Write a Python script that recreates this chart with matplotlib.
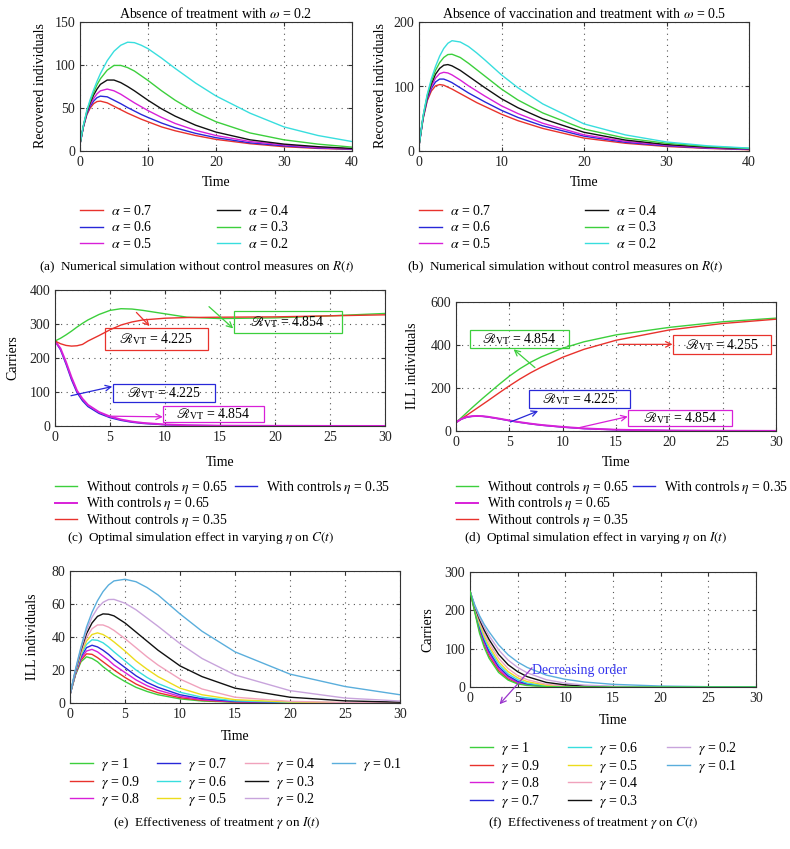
import matplotlib
matplotlib.use("Agg")
import matplotlib.pyplot as plt
from matplotlib.patches import Rectangle

plt.rcParams["font.family"] = "serif"
plt.rcParams["font.serif"] = ["Liberation Serif", "DejaVu Serif"]
plt.rcParams["mathtext.fontset"] = "stix"
plt.rcParams["font.size"] = 10

W, H = 790, 849

RED = "#e8322c"
BLUE = "#2828d8"
MAG = "#d820d8"
BLACK = "#111111"
GREEN = "#3ccf3c"
CYAN = "#38dede"
YELLOW = "#ecdc1c"
PINK = "#f0a2bc"
PLUM = "#c8a4dc"
LBLUE = "#5aaedc"
PURPLE = "#9933cc"

# ---- (a) recovered, omega = 0.2
t_a = [0, 0.5, 1, 1.5, 2, 2.5, 3, 4, 5, 6, 7, 8, 9, 10, 12, 14, 17, 20, 25, 30, 35, 40]
a_alpha07 = [8, 28, 42, 50, 55, 57.5, 58, 56, 52, 48, 44, 40.5, 37, 34, 28, 23.5, 18, 13.5, 8.5, 5, 3, 2]
a_alpha06 = [8, 28, 43, 52, 58, 62, 63.8, 63, 59, 55, 50.5, 46.5, 42.5, 39, 32.5, 27, 20.5, 15.5, 9.5, 6, 3.5, 2.2]
a_alpha05 = [8, 28.5, 44, 54, 61, 66.5, 70, 72, 70, 66, 61, 56, 51.5, 47, 39, 32, 24, 18, 11, 7, 4, 2.5]
a_alpha04 = [8, 29, 45, 56, 65, 72, 77.5, 82.5, 82.5, 79.5, 75, 70, 64.5, 59, 49, 40.5, 30, 22, 13, 8, 5, 3]
a_alpha03 = [8, 29.5, 46, 58, 68, 77, 84, 94, 99.5, 99.5, 97, 93, 87.5, 82, 70, 59, 45, 34, 21, 13, 8, 4.5]
a_alpha02 = [8, 30, 47, 60, 71, 81, 90, 105, 116, 123, 126.5, 126, 123, 119, 108, 96, 79, 64, 44, 28, 18, 11]

# ---- (b) recovered, omega = 0.5
t_b = [0, 0.5, 1, 1.5, 2, 2.5, 3, 3.5, 4, 5, 6, 7, 8, 10, 12, 15, 20, 25, 30, 35, 40]
b_alpha07 = [8, 50, 78, 93, 101, 103, 102, 99, 96, 89, 82, 75, 69, 57, 47, 35, 20, 12, 7, 4, 2]
b_alpha06 = [8, 51, 80, 97, 107, 111.5, 111.5, 109, 106, 98, 90, 83, 76, 63, 52, 39, 23, 13.5, 8, 4.5, 2.5]
b_alpha05 = [8, 52, 82, 100, 113, 120, 122, 121, 118, 110, 101, 93, 85, 70, 58, 43, 25, 15, 9, 5, 3]
b_alpha04 = [8, 53, 84, 104, 119, 128, 133, 134, 132, 125, 116, 107, 98, 81, 67, 50, 29, 17, 10, 6, 3.5]
b_alpha03 = [8, 54, 86, 108, 125, 137, 145, 149.5, 150, 145, 136, 126, 116, 96, 79, 59, 34, 20, 12, 7, 4]
b_alpha02 = [8, 55, 88, 112, 131, 147, 159, 167, 171, 169, 162, 152, 141, 118, 98, 73, 42, 25, 14, 8, 4.5]
alpha_labels = ["0.7", "0.6", "0.5", "0.4", "0.3", "0.2"]

# ---- (c) carriers, varying eta
t_c = [0, 0.5, 1, 1.5, 2, 2.5, 3, 4, 5, 6, 7, 8, 10, 12, 15, 20, 25, 30]
c_without065 = [250, 258, 268, 279, 291, 302, 312, 328, 340, 345, 344, 340, 330, 320, 316, 318, 324, 331]
c_with065 = [250, 228, 188, 143, 104, 80, 62, 41, 28, 19, 13, 9, 4.5, 2.2, 1, 0.4, 0.2, 0.1]
c_without035 = [250, 242, 237, 235, 236, 240, 250, 266, 283, 297, 306, 312, 317, 319, 320, 321, 324, 327]
c_with035 = [250, 224, 182, 136, 98, 74, 57, 37, 24.5, 16.5, 11, 7.5, 3.5, 1.8, 0.8, 0.3, 0.1, 0.1]

# ---- (d) ill individuals, varying eta
t_d = [0, 0.5, 1, 1.5, 2, 2.5, 3, 4, 5, 6, 7, 8, 10, 12, 15, 20, 25, 30]
d_without065 = [40, 62, 85, 108, 130, 152, 173, 215, 255, 290, 320, 345, 385, 415, 447, 482, 508, 525]
d_with065 = [40, 56, 65, 69, 70, 69, 66, 58, 49, 41, 34, 28, 19, 12, 6, 2, 1, 0.5]
d_without035 = [40, 56, 73, 90, 107, 124, 141, 176, 210, 242, 271, 297, 343, 380, 422, 470, 500, 520]
d_with035 = [40, 55, 64, 68, 69, 68, 65, 57, 48, 40, 33, 27, 18, 11, 5.5, 2, 1, 0.5]
eta_labels = [r"Without controls $\eta$ = 0.65", r"With controls $\eta$ = 0.65",
              r"Without controls $\eta$ = 0.35", r"With controls $\eta$ = 0.35"]

# ---- (e) ill individuals, varying gamma
t_e = [0, 0.5, 1, 1.5, 2, 2.5, 3, 3.5, 4, 5, 6, 7, 8, 10, 12, 15, 20, 25, 30]
e_g10 = [5, 17, 25, 28, 27, 25, 22, 19.5, 17, 13, 9.5, 7, 5, 2.5, 1.2, 0.5, 0.2, 0.1, 0.05]
e_g09 = [5, 17.5, 26, 29.8, 29.5, 27.5, 25, 22.5, 20, 15.5, 11.5, 8.5, 6.2, 3.2, 1.6, 0.6, 0.2, 0.1, 0.05]
e_g08 = [5, 18, 27, 31.5, 32.5, 31, 28.5, 26, 23, 18.5, 14, 10.5, 7.8, 4, 2, 0.8, 0.25, 0.1, 0.05]
e_g07 = [5, 18, 28, 33.5, 35, 34, 32, 29.5, 26.5, 21.5, 16.5, 12.5, 9.5, 5, 2.6, 1, 0.3, 0.1, 0.05]
e_g06 = [5, 18.5, 29, 35.5, 38.3, 38, 36.5, 34, 31, 25.5, 20, 15.5, 11.8, 6.5, 3.5, 1.3, 0.4, 0.15, 0.05]
e_g05 = [5, 19, 30, 37.5, 41.5, 42.5, 41.5, 39.5, 37, 31.5, 25.5, 20.5, 16, 9, 5, 2, 0.6, 0.2, 0.1]
e_g04 = [5, 19, 31, 39.5, 45, 47.3, 47.3, 46, 44, 39, 33.5, 28, 23, 14.5, 8.5, 3.5, 1, 0.3, 0.1]
e_g03 = [5, 19.5, 32, 42, 48.5, 52.5, 54, 53.8, 52.8, 48.5, 43, 37.5, 32, 22.5, 16, 9, 3.5, 1.3, 0.5]
e_g02 = [5, 20, 33, 44, 52, 57.5, 61, 62.7, 62.8, 60.5, 56.5, 51.5, 46.5, 36, 27, 17, 7.5, 3, 1.2]
e_g01 = [5, 20.5, 34, 46, 55, 62, 67.5, 71.5, 74, 75, 73.5, 70, 65.5, 54, 43.5, 31, 17.5, 10, 5]

# ---- (f) carriers, varying gamma
t_f = [0, 0.5, 1, 1.5, 2, 3, 4, 5, 6, 8, 10, 12, 15, 20, 25, 30]
f_g10 = [250, 195, 140, 103, 75, 38, 18, 8, 4, 1, 0.3, 0.1, 0, 0, 0, 0]
f_g09 = [250, 198, 146, 109, 81, 43, 21, 10, 5, 1.3, 0.4, 0.1, 0, 0, 0, 0]
f_g08 = [250, 200, 151, 115, 87, 48, 25, 12, 6, 1.6, 0.5, 0.2, 0, 0, 0, 0]
f_g07 = [250, 202, 156, 121, 93, 53, 29, 15, 8, 2.2, 0.7, 0.2, 0.1, 0, 0, 0]
f_g06 = [250, 204, 161, 127, 100, 59, 34, 19, 10, 3, 1, 0.3, 0.1, 0, 0, 0]
f_g05 = [250, 206, 166, 133, 107, 66, 40, 24, 14, 4.5, 1.5, 0.5, 0.1, 0, 0, 0]
f_g04 = [250, 208, 171, 140, 115, 75, 48, 30, 19, 7, 2.5, 1, 0.3, 0, 0, 0]
f_g03 = [250, 210, 176, 148, 124, 85, 58, 40, 27, 12, 5.5, 2.5, 0.8, 0.2, 0, 0]
f_g02 = [250, 212, 181, 156, 134, 97, 70, 51, 37, 19, 10, 5, 2, 0.5, 0.1, 0]
f_g01 = [250, 214, 186, 163, 144, 110, 84, 65, 51, 31, 20, 13, 7, 2.5, 0.8, 0.3]
gamma_labels = ["1", "0.9", "0.8", "0.7", "0.6", "0.5", "0.4", "0.3", "0.2", "0.1"]
gamma_colors = [GREEN, RED, MAG, BLUE, CYAN, YELLOW, PINK, BLACK, PLUM, LBLUE]

fig = plt.figure(figsize=(W / 100, H / 100), dpi=100)


def add_ax(x0, y0, x1, y1):
    return fig.add_axes([x0 / W, 1 - y1 / H, (x1 - x0) / W, (y1 - y0) / H])


def ftext(x, y, s, **kw):
    kw.setdefault("ha", "center")
    kw.setdefault("va", "center")
    fig.text(x / W, 1 - y / H, s, **kw)


def col_legend(handles, labels, x, y, fs=10, sp=0.18):
    fig.legend(handles, labels, loc="upper left", bbox_to_anchor=(x / W, 1 - y / H),
               frameon=False, borderpad=0, borderaxespad=0, handlelength=1.65,
               handletextpad=0.6, labelspacing=sp, fontsize=fs)


def style(ax, xmax, xstep, ymax, ystep):
    ax.set_xlim(0, xmax)
    ax.set_ylim(0, ymax)
    ax.set_xticks(range(0, xmax + 1, xstep))
    ax.set_yticks(range(0, ymax + 1, ystep))
    ax.grid(True, linestyle=(0, (1, 4)), color="#555555", linewidth=0.8)
    ax.tick_params(direction="in", length=3, labelsize=10, top=True, right=True,
                   colors="#333333", labelcolor="#222222")
    for s in ax.spines.values():
        s.set_color("#333333")
        s.set_linewidth(0.8)


def boxed(ax, box, txt_xy, tail, head, color, label):
    x0, x1, y0, y1 = box
    ax.add_patch(Rectangle((x0, y0), x1 - x0, y1 - y0, fill=False, ec=color, lw=0.9, zorder=5))
    ax.text(txt_xy[0], txt_xy[1], label, ha="center", va="center", fontsize=10, zorder=6)
    ax.annotate("", xy=head, xytext=tail,
                arrowprops=dict(arrowstyle="->", color=color, lw=0.9, shrinkA=0, shrinkB=0))


# ---------- (a)
ax = add_ax(80, 22, 352, 151)
series = [a_alpha07, a_alpha06, a_alpha05, a_alpha04, a_alpha03, a_alpha02]
cols = [RED, BLUE, MAG, BLACK, GREEN, CYAN]
lines = [ax.plot(t_a, v, color=c, lw=1.0)[0] for v, c in zip(series, cols)]
style(ax, 40, 10, 150, 50)
labs = [r"$\alpha$ = " + s for s in alpha_labels]
col_legend(lines[:3], labs[:3], 80, 204)
col_legend(lines[3:], labs[3:], 217, 204)
ftext(216, 14, r"Absence of treatment with $\omega$ = 0.2", fontsize=10)
ftext(216, 183, "Time", fontsize=10)
ftext(40, 86, "Recovered individuals", rotation=90, fontsize=10)
ftext(197, 267, r"(a)  Numerical simulation without control measures on $R(t)$", fontsize=9.5)

# ---------- (b)
ax = add_ax(419, 22, 749, 151)
series = [b_alpha07, b_alpha06, b_alpha05, b_alpha04, b_alpha03, b_alpha02]
lines = [ax.plot(t_b, v, color=c, lw=1.0)[0] for v, c in zip(series, cols)]
style(ax, 40, 10, 200, 100)
col_legend(lines[:3], labs[:3], 419, 204)
col_legend(lines[3:], labs[3:], 585, 204)
ftext(584, 14, r"Absence of vaccination and treatment with $\omega$ = 0.5", fontsize=10)
ftext(584, 183, "Time", fontsize=10)
ftext(380, 86, "Recovered individuals", rotation=90, fontsize=10)
ftext(565, 267, r"(b)  Numerical simulation without control measures on $R(t)$", fontsize=9.5)

RVT = r"$\mathscr{R}_{\mathrm{VT}}$ = "

# ---------- (c)
ax = add_ax(55, 290, 385, 426)
l1, = ax.plot(t_c, c_without065, color=GREEN, lw=1.0)
l4, = ax.plot(t_c, c_with035, color=BLUE, lw=1.0)
l2, = ax.plot(t_c, c_with065, color=MAG, lw=1.4)
l3, = ax.plot(t_c, c_without035, color=RED, lw=1.0)
style(ax, 30, 5, 400, 100)
boxed(ax, (4.5, 13.9, 225, 287), (9.2, 256), (7.4, 334), (8.6, 294), RED, RVT + "4.225")
boxed(ax, (16.3, 26.1, 275, 338), (21.1, 306), (14.0, 351), (16.2, 287), GREEN, RVT + "4.854")
boxed(ax, (5.3, 14.5, 70, 125), (9.9, 97), (1.45, 89), (5.2, 116), BLUE, RVT + "4.225")
boxed(ax, (9.8, 19.0, 11, 59), (14.4, 35), (4.7, 29), (9.8, 27), MAG, RVT + "4.854")
col_legend([l1, l2, l3], eta_labels[:3], 55, 479, fs=9.8, sp=-0.05)
col_legend([l4], eta_labels[3:], 235, 479, fs=9.8, sp=-0.05)
ftext(220, 462, "Time", fontsize=10)
ftext(13, 358, "Carriers", rotation=90, fontsize=10)
ftext(201, 538, r"(c)  Optimal simulation effect in varying $\eta$ on $C(t)$", fontsize=9.5)

# ---------- (d)
ax = add_ax(456, 302, 776, 431)
l1, = ax.plot(t_d, d_without065, color=GREEN, lw=1.0)
l3, = ax.plot(t_d, d_without035, color=RED, lw=1.0)
l4, = ax.plot(t_d, d_with035, color=BLUE, lw=1.0)
l2, = ax.plot(t_d, d_with065, color=MAG, lw=1.4)
style(ax, 30, 5, 600, 200)
boxed(ax, (1.3, 10.6, 385, 470), (5.9, 428), (7.4, 295), (5.4, 380), GREEN, RVT + "4.854")
boxed(ax, (20.3, 29.5, 357, 445), (24.9, 401), (15.2, 403), (20.3, 403), RED, RVT + "4.255")
boxed(ax, (6.8, 16.3, 109, 189), (11.5, 150), (5.1, 42), (7.7, 93), BLUE, RVT + "4.225")
boxed(ax, (16.1, 25.9, 23, 98), (21.0, 62), (11.6, 16), (16.1, 67), MAG, RVT + "4.854")
col_legend([l1, l2, l3], eta_labels[:3], 456, 479, fs=9.8, sp=-0.05)
col_legend([l4], eta_labels[3:], 633, 479, fs=9.8, sp=-0.05)
ftext(616, 463, "Time", fontsize=10)
ftext(413, 366, "ILL individuals", rotation=90, fontsize=10)
ftext(596, 538, r"(d)  Optimal simulation effect in varying $\eta$ on $I(t)$", fontsize=9.5)

# ---------- (e)
ax = add_ax(70, 571, 400, 703)
series = [e_g10, e_g09, e_g08, e_g07, e_g06, e_g05, e_g04, e_g03, e_g02, e_g01]
lines = [ax.plot(t_e, v, color=c, lw=1.0)[0] for v, c in zip(series, gamma_colors)]
style(ax, 30, 5, 80, 20)
glabs = [r"$\gamma$ = " + s for s in gamma_labels]
col_legend(lines[0:3], glabs[0:3], 70, 756, sp=0.04)
col_legend(lines[3:6], glabs[3:6], 157, 756, sp=0.04)
col_legend(lines[6:9], glabs[6:9], 245, 756, sp=0.04)
col_legend(lines[9:], glabs[9:], 332, 756, sp=0.04)
ftext(235, 736, "Time", fontsize=10)
ftext(33, 637, "ILL individuals", rotation=90, fontsize=10)
ftext(217, 823, r"(e)  Effectiveness of treatment $\gamma$ on $I(t)$", fontsize=9.5)

# ---------- (f)
ax = add_ax(470, 572, 756, 687)
series = [f_g10, f_g09, f_g08, f_g07, f_g06, f_g05, f_g04, f_g03, f_g02, f_g01]
lines = [ax.plot(t_f, v, color=c, lw=1.0)[0] for v, c in zip(series, gamma_colors)]
lines[0].set_zorder(3)
style(ax, 30, 5, 300, 100)
ax.text(11.5, 43, "Decreasing order", color="#3535ee", ha="center", va="center", fontsize=10)
ax.annotate("", xy=(3.1, -45), xytext=(6.5, 50), annotation_clip=False,
            arrowprops=dict(arrowstyle="->", color=PURPLE, lw=0.9, shrinkA=0, shrinkB=0))
col_legend(lines[0:4], glabs[0:4], 470, 740, sp=0.04)
col_legend(lines[4:8], glabs[4:8], 568, 740, sp=0.04)
col_legend(lines[8:], glabs[8:], 667, 740, sp=0.04)
ftext(613, 721, "Time", fontsize=10)
ftext(428, 630, "Carriers", rotation=90, fontsize=10)
ftext(593, 823, r"(f)  Effectiveness of treatment $\gamma$ on $C(t)$", fontsize=9.5)

fig.savefig("out.png", dpi=100)
